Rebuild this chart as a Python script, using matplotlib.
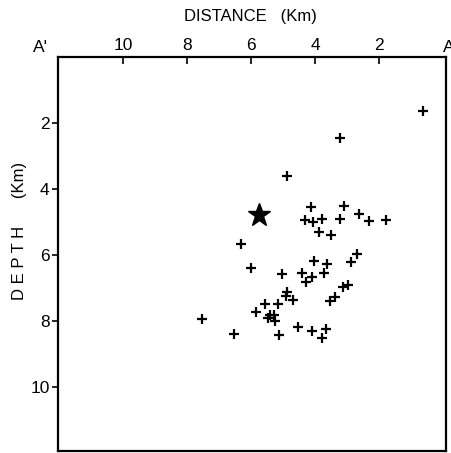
import matplotlib
matplotlib.use("Agg")
import matplotlib.pyplot as plt

# Event hypocenters: distance along A'-A (km), depth (km)
dist = [0.63, 3.23, 4.87, 4.12, 3.08, 2.61, 4.30, 4.05, 3.78, 3.22, 2.32, 1.79,
        3.87, 3.51, 6.32, 2.70, 2.88, 4.02, 3.63, 3.71, 6.00, 5.04, 4.41, 4.10,
        4.27, 3.12, 2.96, 3.38, 3.53, 4.87, 4.91, 4.70, 5.56, 5.15, 5.84, 5.41,
        5.28, 5.46, 5.25, 7.54, 6.53, 5.13, 4.54, 4.10, 3.66, 3.77]
depth = [1.65, 2.46, 3.60, 4.56, 4.53, 4.76, 4.93, 5.01, 4.91, 4.91, 4.97, 4.93,
         5.32, 5.40, 5.66, 5.97, 6.21, 6.19, 6.27, 6.54, 6.40, 6.58, 6.56, 6.67,
         6.82, 6.97, 6.92, 7.27, 7.40, 7.13, 7.25, 7.37, 7.50, 7.50, 7.72, 7.84,
         7.81, 7.91, 8.01, 7.96, 8.39, 8.42, 8.20, 8.30, 8.26, 8.51]
# Main shock (star)
star_dist = [5.76]
star_depth = [4.79]

xticks = [10, 8, 6, 4, 2]
yticks = [2, 4, 6, 8, 10]

plt.rcParams['font.family'] = ['Liberation Sans', 'DejaVu Sans']
fig = plt.figure(figsize=(4.51, 4.53), dpi=100)
ax = fig.add_axes([58/451, 2/453, 388/451, 394/453])

ax.plot(dist, depth, linestyle='none', marker='+', color='black',
        markersize=7, markeredgewidth=1.6)
ax.plot(star_dist, star_depth, linestyle='none', marker='*', color='black',
        markersize=17)

ax.set_xlim(12.05, -0.1)
ax.set_ylim(11.95, 0.0)

ax.xaxis.tick_top()
ax.set_xticks(xticks)
ax.set_xticklabels([str(t) for t in xticks], fontsize=12.5)
ax.set_yticks(yticks)
ax.set_yticklabels([str(t) for t in yticks], fontsize=12.5)
ax.tick_params(axis='x', direction='in', length=5, width=1.2, pad=3)
ax.tick_params(axis='y', direction='out', length=4, width=1.2, pad=2)
for s in ax.spines.values():
    s.set_linewidth(1.6)

fig.text(250/451, 1 - 17/453, 'DISTANCE   (Km)', fontsize=12,
         ha='center', va='center')
fig.text(20/451, 1 - 231/453, 'D E P T H      (Km)', fontsize=12,
         ha='center', va='center', rotation=90)

fig.text(40/451, 1 - 47/453, "A'", fontsize=12.5, ha='center', va='center')
fig.text(449/451, 1 - 47/453, "A", fontsize=12.5, ha='center', va='center')

fig.savefig('out.png', dpi=100)
